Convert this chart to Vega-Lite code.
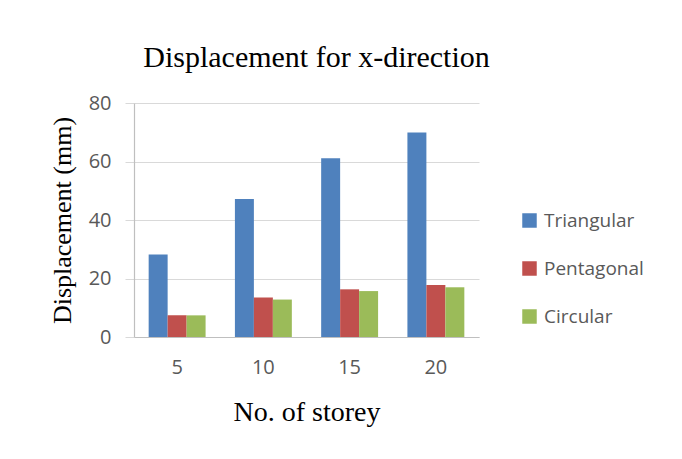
{
  "$schema": "https://vega.github.io/schema/vega-lite/v6.json",
  "autosize": "none",
  "padding": {"left": 134, "top": 103, "right": 203, "bottom": 122},
  "width": 345,
  "height": 234,
  "background": "white",
  "title": {
    "text": "Displacement for x-direction",
    "font": "Liberation Serif",
    "fontSize": 30,
    "fontWeight": "normal",
    "color": "#000000",
    "anchor": "middle",
    "frame": "group",
    "offset": 20,
    "dx": 10
  },
  "data": {
    "values": [
      {"storey": "5", "shape": "Triangular", "disp": 28.2},
      {"storey": "5", "shape": "Pentagonal", "disp": 7.4},
      {"storey": "5", "shape": "Circular", "disp": 7.4},
      {"storey": "10", "shape": "Triangular", "disp": 47.2},
      {"storey": "10", "shape": "Pentagonal", "disp": 13.5},
      {"storey": "10", "shape": "Circular", "disp": 12.8},
      {"storey": "15", "shape": "Triangular", "disp": 61.1},
      {"storey": "15", "shape": "Pentagonal", "disp": 16.3},
      {"storey": "15", "shape": "Circular", "disp": 15.7},
      {"storey": "20", "shape": "Triangular", "disp": 69.9},
      {"storey": "20", "shape": "Pentagonal", "disp": 17.8},
      {"storey": "20", "shape": "Circular", "disp": 17.0}
    ]
  },
  "mark": {"type": "bar"},
  "encoding": {
    "x": {
      "field": "storey",
      "type": "ordinal",
      "sort": ["5", "10", "15", "20"],
      "scale": {"paddingInner": 0.34, "paddingOuter": 0.17},
      "axis": {
        "title": "No. of storey",
        "titleFont": "Liberation Serif",
        "titleFontSize": 28,
        "titleFontWeight": "normal",
        "titleColor": "#000000",
        "titlePadding": 21,
        "labelAngle": 0,
        "labelFont": "Open Sans",
        "labelFontSize": 20,
        "labelColor": "#595959",
        "labelPadding": 20,
        "ticks": false,
        "domainColor": "#bfbfbf",
        "domainWidth": 1.2
      }
    },
    "xOffset": {
      "field": "shape",
      "sort": ["Triangular", "Pentagonal", "Circular"]
    },
    "y": {
      "field": "disp",
      "type": "quantitative",
      "scale": {"domain": [0, 80]},
      "axis": {
        "title": "Displacement (mm)",
        "titleFont": "Liberation Serif",
        "titleFontSize": 26,
        "titleFontWeight": "normal",
        "titleColor": "#000000",
        "titlePadding": 13,
        "values": [0, 20, 40, 60, 80],
        "labelFont": "Open Sans",
        "labelFontSize": 20,
        "labelColor": "#595959",
        "labelPadding": 14,
        "tickSize": 9,
        "tickColor": "#d9d9d9",
        "gridColor": "#d9d9d9",
        "gridWidth": 1.2,
        "domainColor": "#bfbfbf",
        "domainWidth": 1.2
      }
    },
    "color": {
      "field": "shape",
      "type": "nominal",
      "sort": ["Triangular", "Pentagonal", "Circular"],
      "scale": {
        "domain": ["Triangular", "Pentagonal", "Circular"],
        "range": ["#4F81BD", "#C0504D", "#9BBB59"]
      },
      "legend": {
        "title": null,
        "orient": "none",
        "legendX": 386,
        "legendY": 108,
        "symbolType": "square",
        "symbolSize": 210,
        "symbolStrokeWidth": 0,
        "labelFont": "Open Sans",
        "labelFontSize": 19,
        "labelColor": "#595959",
        "labelOffset": 5,
        "rowPadding": 28
      }
    }
  },
  "config": {
    "view": {"stroke": null}
  }
}
